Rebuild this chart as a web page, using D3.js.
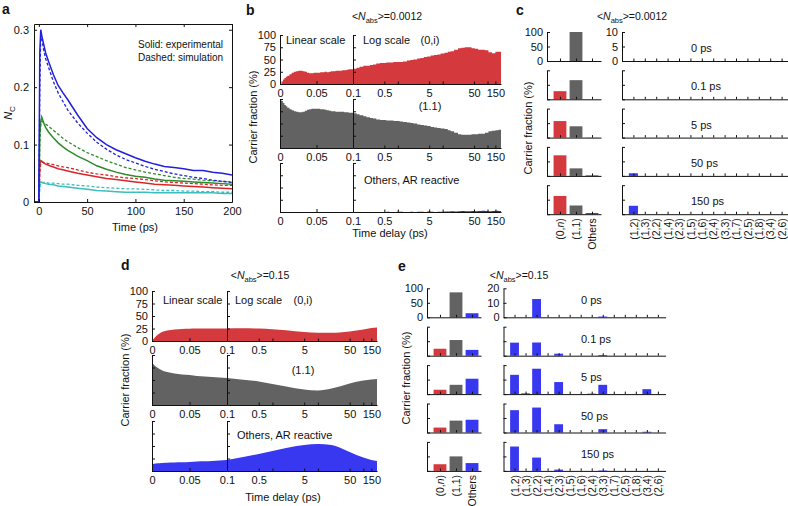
<!DOCTYPE html>
<html>
<head>
<meta charset="utf-8">
<script src="https://cdn.jsdelivr.net/npm/d3@7"></script>
<style>
body { margin: 0; background: #fff; }
svg text { font-family: "Liberation Sans", Arial, Helvetica, sans-serif; fill: #111; }
.tick text { font-size: 11px; }
.tick line, .domain { stroke: #111; }
</style>
</head>
<body>
<div id="chart"></div>
<script>
// ---- panel a : N_C vs time ----
const aTime = [-5,0,1,2,3,5,7,10,15,20,25,30,40,50,60,70,80,90,100,110,120,130,140,150,160,170,180,190,200];
const aBlueExp  = [0,0,0.26,0.30,0.29,0.275,0.26,0.245,0.222,0.203,0.19,0.178,0.152,0.128,0.112,0.1,0.091,0.084,0.077,0.071,0.066,0.062,0.06,0.058,0.055,0.055,0.052,0.05,0.047];
const aBlueSim  = [0,0,0.2,0.295,0.285,0.265,0.25,0.235,0.21,0.19,0.175,0.16,0.138,0.12,0.104,0.092,0.082,0.074,0.068,0.062,0.057,0.053,0.049,0.046,0.043,0.041,0.038,0.036,0.034];
const aGreenExp = [0,0,0.12,0.14,0.148,0.138,0.13,0.122,0.112,0.103,0.096,0.09,0.08,0.072,0.063,0.057,0.052,0.048,0.045,0.043,0.04,0.038,0.037,0.036,0.035,0.034,0.033,0.032,0.031];
const aGreenSim = [0,0,0.1,0.135,0.14,0.139,0.136,0.132,0.125,0.118,0.111,0.105,0.095,0.086,0.079,0.072,0.066,0.06,0.056,0.052,0.049,0.046,0.043,0.041,0.04,0.038,0.037,0.036,0.035];
const aRedExp   = [0,0,0.065,0.072,0.071,0.068,0.066,0.064,0.061,0.058,0.056,0.054,0.05,0.047,0.044,0.041,0.039,0.037,0.035,0.033,0.031,0.03,0.029,0.028,0.027,0.026,0.025,0.024,0.023];
const aRedSim   = [0,0,0.05,0.068,0.069,0.069,0.068,0.067,0.065,0.063,0.061,0.06,0.056,0.052,0.049,0.047,0.044,0.042,0.041,0.039,0.037,0.035,0.034,0.033,0.032,0.031,0.03,0.029,0.029];
const aCyanExp  = [0,0,0.033,0.035,0.034,0.033,0.032,0.031,0.03,0.028,0.027,0.026,0.024,0.022,0.02,0.019,0.018,0.017,0.017,0.017,0.016,0.016,0.016,0.016,0.016,0.016,0.016,0.015,0.015];
const aCyanSim  = [0,0,0.025,0.033,0.034,0.034,0.034,0.033,0.033,0.032,0.031,0.031,0.029,0.028,0.026,0.025,0.024,0.023,0.023,0.022,0.021,0.02,0.02,0.019,0.019,0.018,0.018,0.017,0.017];

// ---- panel b : <Nabs>=0.0012 carrier fractions (%) ----
const bLinTime = [0,0.002,0.004,0.006,0.008,0.01,0.013,0.016,0.019,0.022,0.025,0.028,0.031,0.034,0.037,0.04,0.043,0.046,0.049,0.052,0.055,0.058,0.061,0.064,0.067,0.07,0.073,0.076,0.079,0.082,0.085,0.088,0.091,0.094,0.097,0.1];
const bRedLin  = [0,5,9,12,15,17,20,23,25,26,27,27,26,25,23,22,22,23,23,23,24,24,25,24,25,26,26,27,27,27,28,28,29,30,30,31];
const bGrayLin = [100,96,92,88,85,82,79,77,75,74,73,73,74,76,78,79,80,80,80,80,79,79,78,77,76,75,75,74,74,74,74,73,73,72,72,71];
const bLogTime = [0.1,0.12,0.14,0.17,0.2,0.24,0.28,0.33,0.4,0.47,0.55,0.65,0.8,0.95,1.1,1.3,1.6,1.9,2.2,2.7,3.2,3.8,4.5,5.4,6.4,7.6,9,11,13,15,18,22,26,31,37,44,52,62,74,88,105,125,150,175,200];
const bRedLog  = [31,33,35,37,37,39,40,42,43,43,44,44,45,45,45,46,48,49,50,52,53,55,56,58,59,60,62,64,66,67,70,73,74,75,75,73,72,70,70,69,65,63,66,66,65];
const bGrayLog = [71,69,67,65,63,61,60,58,57,57,56,56,55,55,54,53,52,51,50,48,47,46,45,43,42,41,40,39,36,34,31,28,27,27,27,28,28,29,29,31,34,35,36,37,37];
const bBlueLog = [0,0,0,0,0,0,0,0,0,0,0.5,0,0,0.5,0.5,0,0,0.5,0,0.5,0.5,0,1,0.5,0,0.5,0.5,1,1,1.5,1,1.5,2,1.5,1.5,2,1.5,2,2.5,2,1.5,2,2.5,2,2];

// ---- panel d : <Nabs>=0.15 carrier fractions (%) ----
const dLinTime = [0,0.005,0.01,0.015,0.02,0.03,0.04,0.05,0.06,0.07,0.08,0.09,0.1];
const dRedLin  = [0,9,15,19,21,23,24,24.5,25,25,25,25,25];
const dGrayLin = [85,77,72,68,66,63,61,60,58,57,56,55,54];
const dBlueLin = [14,15,15.5,16,16.5,17,17.5,18,19,19.5,20,21,22];
const dLogTime = [0.1,0.2,0.5,1,2,5,10,20,30,50,100,150,200];
const dRedLog  = [25,25.5,25,23.5,21.5,18,16.5,16.5,17,19,23,26,27];
const dGrayLog = [54,51,47,42,37,31,29,33,37,43,49,51,52];
const dBlueLog = [22,27,34,40,46,52,54,52,47,38,27,22,20];

// ---- panels c, e : bar snapshots ----
const delays = ["0 ps", "0.1 ps", "5 ps", "50 ps", "150 ps"];
const mainCats = ["(0,n)", "(1,1)", "Others"];
const otherCats = ["(1,2)","(1,3)","(2,2)","(1,4)","(2,3)","(1,5)","(1,6)","(2,4)","(3,3)","(1,7)","(2,5)","(1,8)","(3,4)","(2,6)"];
const cRed    = [0, 28, 57, 71, 63];
const cGray   = [100, 66, 39, 26, 30];
const cOthers = [0, 0, 0.5, 2, 4];
const cDetail = [
  [0,0,0,0,0,0,0,0,0,0,0,0,0,0],
  [0,0,0,0,0,0,0,0,0,0,0,0,0,0],
  [0,0,0,0,0,0,0,0,0,0,0,0,0,0],
  [0.9,0,0,0,0,0,0,0,0,0,0,0,0,0],
  [2.9,0,0,0,0,0,0,0,0,0,0,0,0,0]
];
const eRed    = [0, 24, 15, 17, 23];
const eGray   = [86, 54, 32, 41, 50];
const eOthers = [14, 20, 53, 44, 27];
const eDetail = [
  [0,0,12.6,0,0,0,0,0,0.5,0,0,0,0,0],
  [9,0,9.1,0,1.4,0,0,0,0.5,0,0,0,0,0],
  [13.3,0.5,17.5,0,8.3,0,0,0.3,6.4,0,0,0,3.4,0],
  [15.4,0,17.2,0,5.7,0,0,0,2.3,0,0,0,0.5,0],
  [16.8,0,9.2,0,0.9,0,0,0,0.3,0,0,0,0,0]
];

const RED = "#d4393d", GRAY = "#626262", BLUE = "#3838f0";

const svg = d3.select("#chart").append("svg")
  .attr("width", 788).attr("height", 506)
  .style("background", "#fff");

function label(x, y, s, size, anchor, weight) {
  return svg.append("text").attr("x", x).attr("y", y)
    .attr("font-size", size || 11)
    .attr("text-anchor", anchor || "start")
    .attr("font-weight", weight || "normal")
    .text(s);
}
function vlabel(x, y, s, size) {
  return svg.append("text")
    .attr("transform", `translate(${x},${y}) rotate(-90)`)
    .attr("text-anchor", "middle").attr("font-size", size || 11)
    .text(s);
}
function nabsTitle(x, y, val) {
  const t = svg.append("text").attr("x", x).attr("y", y)
    .attr("text-anchor", "middle").attr("font-size", 10.5);
  t.append("tspan").text("<");
  t.append("tspan").attr("font-style", "italic").text("N");
  t.append("tspan").attr("font-size", 7.5).attr("dy", 2.5).text("abs");
  t.append("tspan").attr("dy", -2.5).text(">=" + val);
}

// ================= panel a =================
(function () {
  const x = d3.scaleLinear().domain([-5, 200]).range([34, 232]);
  const y = d3.scaleLinear().domain([0, 0.31]).range([202, 24]);
  const g = svg.append("g");

  const series = [
    [aCyanExp, aCyanSim, "#3ebdbd"],
    [aRedExp, aRedSim, "#d6282b"],
    [aGreenExp, aGreenSim, "#2d8a2d"],
    [aBlueExp, aBlueSim, "#2020dc"]
  ];
  const line = d3.line().x(d => x(d[0])).y(d => y(d[1]));
  series.forEach(s => {
    g.append("path").datum(d3.zip(aTime, s[1])).attr("d", line)
      .attr("fill", "none").attr("stroke", s[2]).attr("stroke-width", 1.3)
      .attr("stroke-dasharray", "3,2");
    g.append("path").datum(d3.zip(aTime, s[0])).attr("d", line)
      .attr("fill", "none").attr("stroke", s[2]).attr("stroke-width", 1.5);
  });

  g.append("g").attr("transform", "translate(0,202)")
    .call(d3.axisBottom(x).tickValues([0, 50, 100, 150, 200]).tickSizeInner(-3).tickSizeOuter(0).tickPadding(5));
  g.append("g").attr("transform", "translate(0,24)")
    .call(d3.axisTop(x).tickValues([0, 50, 100, 150, 200]).tickSizeInner(-3).tickSizeOuter(0).tickFormat(""));
  g.append("g").attr("transform", "translate(34,0)")
    .call(d3.axisLeft(y).tickValues([0, 0.1, 0.2, 0.3]).tickSizeInner(-3).tickSizeOuter(0).tickPadding(5).tickFormat(d3.format("~g")));
  g.append("g").attr("transform", "translate(232,0)")
    .call(d3.axisRight(y).tickValues([0, 0.1, 0.2, 0.3]).tickSizeInner(-3).tickSizeOuter(0).tickFormat(""));

  label(138, 48, "Solid: experimental", 10);
  label(138, 61, "Dashed: simulation", 10);
  label(135, 231, "Time (ps)", 11, "middle");
  const yl = svg.append("text").attr("transform", "translate(12,113) rotate(-90)")
    .attr("text-anchor", "middle").attr("font-size", 11);
  yl.append("tspan").attr("font-style", "italic").text("N");
  yl.append("tspan").attr("font-size", 8).attr("dy", 3).text("C");
  label(2, 14, "a", 14, "start", "bold");
})();

// ============ split linear/log panels (b, d) ============
function splitRow(x0, xs, x1, bottom, h, color, linT, linV, logT, logV, showY, curve) {
  const xl = d3.scaleLinear().domain([0, 0.1]).range([x0, xs]);
  const xg = d3.scaleLog().domain([0.1, 200]).range([xs, x1]);
  const y = d3.scaleLinear().domain([0, 100]).range([bottom, bottom - h]);
  const g = svg.append("g");
  const area = sx => d3.area().x(d => sx(d[0])).y0(y(0)).y1(d => y(d[1])).curve(curve);
  if (linT) g.append("path").datum(d3.zip(linT, linV)).attr("d", area(xl)).attr("fill", color);
  g.append("path").datum(d3.zip(logT, logV)).attr("d", area(xg)).attr("fill", color);

  g.append("g").attr("transform", `translate(0,${bottom})`)
    .call(d3.axisBottom(xl).tickValues([0, 0.05, 0.1]).tickSizeInner(-3).tickSizeOuter(0).tickPadding(5).tickFormat(d3.format("~g")));
  g.append("g").attr("transform", `translate(0,${bottom})`)
    .call(d3.axisBottom(xg).tickValues([0.5, 1, 5, 10, 50, 100, 150]).tickSizeInner(-2.5).tickSizeOuter(0).tickPadding(5)
      .tickFormat(d => [0.5, 5, 50, 150].includes(d) ? d3.format("~g")(d) : ""));

  g.append("g").attr("transform", `translate(${x0},0)`)
    .call(d3.axisLeft(y).tickValues([0, 25, 50, 75, 100]).tickSizeInner(-3).tickSizeOuter(0).tickPadding(4)
      .tickFormat(showY ? d3.format("d") : ""));
  g.append("g").attr("transform", `translate(${xs},0)`)
    .call(d3.axisLeft(y).tickValues([25, 50, 75, 100]).tickSizeInner(-3).tickSizeOuter(0).tickFormat(""));
}

// panel b
(function () {
  const x0 = 280, xs = 353, x1 = 501, h = 49;
  const step = d3.curveStepAfter;
  splitRow(x0, xs, x1, 84, h, RED, bLinTime, bRedLin, bLogTime, bRedLog, true, step);
  splitRow(x0, xs, x1, 148, h, GRAY, bLinTime, bGrayLin, bLogTime, bGrayLog, false, step);
  splitRow(x0, xs, x1, 212, h, "#2a2ad0", null, null, bLogTime, bBlueLog, false, step);
  label(246, 15, "b", 14, "start", "bold");
  nabsTitle(387, 20, "0.0012");
  label(286, 44, "Linear scale");
  label(363, 44, "Log scale");
  label(430, 44, "(0,i)", 11, "middle");
  label(430, 110, "(1.1)", 11, "middle");
  label(364, 184, "Others, AR reactive");
  label(390, 237, "Time delay (ps)", 11, "middle");
  vlabel(257, 117, "Carrier fraction (%)");
})();

// panel d
(function () {
  const x0 = 152, xs = 227, x1 = 377, h = 50;
  const smooth = d3.curveMonotoneX;
  splitRow(x0, xs, x1, 341, h, RED, dLinTime, dRedLin, dLogTime, dRedLog, true, smooth);
  splitRow(x0, xs, x1, 405, h, GRAY, dLinTime, dGrayLin, dLogTime, dGrayLog, false, smooth);
  splitRow(x0, xs, x1, 471, h, BLUE, dLinTime, dBlueLin, dLogTime, dBlueLog, false, smooth);
  label(121, 270, "d", 14, "start", "bold");
  nabsTitle(260, 279, "0.15");
  label(163, 304, "Linear scale");
  label(235, 304, "Log scale");
  label(303, 304, "(0,i)", 11, "middle");
  label(303, 374, "(1.1)", 11, "middle");
  label(237, 439, "Others, AR reactive");
  label(283, 501, "Time delay (ps)", 11, "middle");
  vlabel(129, 380, "Carrier fraction (%)");
})();

// ============ bar panels (c, e) ============
function barRow(xr, dom, ymax, bottom, h, vals, colors, showY, xLabels) {
  const x = d3.scaleLinear().domain(dom).range(xr);
  const y = d3.scaleLinear().domain([0, ymax]).range([bottom, bottom - h]);
  const g = svg.append("g");
  const idx = d3.range(1, vals.length + 1);
  g.selectAll("rect").data(vals).join("rect")
    .attr("x", (d, i) => x(i + 1 - 0.4))
    .attr("width", x(1.4) - x(0.6))
    .attr("y", d => y(d))
    .attr("height", d => y(0) - y(d))
    .attr("fill", (d, i) => colors[i % colors.length]);
  const gx = g.append("g").attr("transform", `translate(0,${bottom})`)
    .call(d3.axisBottom(x).tickValues(idx).tickSizeInner(-2.5).tickSizeOuter(0)
      .tickFormat(xLabels ? (d => xLabels[d - 1]) : ""));
  if (xLabels) {
    gx.selectAll(".tick text")
      .attr("transform", "rotate(-90)").attr("text-anchor", "end")
      .attr("x", -4).attr("y", 0).attr("dy", "0.35em").style("font-size", "10.5px")
      .each(function (d) {
        if (xLabels[d - 1] === "(0,n)") {
          const t = d3.select(this).text("(0,");
          t.append("tspan").style("font-style", "italic").text("n");
          t.append("tspan").text(")");
        }
      });
  }
  g.append("g").attr("transform", `translate(${xr[0]},0)`)
    .call(d3.axisLeft(y).tickValues([0, ymax / 2, ymax]).tickSizeInner(-3).tickSizeOuter(0).tickPadding(4)
      .tickFormat(showY ? d3.format("d") : ""));
}

function barPanel(opt) {
  delays.forEach((dl, i) => {
    const bottom = opt.bottom0 + i * opt.pitch;
    const last = i === delays.length - 1;
    barRow(opt.leftRange, [0.19, 3.56], 100, bottom, 29,
      [opt.red[i], opt.gray[i], opt.others[i]], [RED, GRAY, BLUE], i === 0, last ? mainCats : null);
    barRow(opt.rightRange, [0, 14.7], opt.rmax, bottom, 29,
      opt.detail[i], [BLUE], i === 0, last ? otherCats : null);
    label(opt.delayX, bottom - opt.delayDy, dl, 11);
  });
}

// panel c
barPanel({
  bottom0: 61, pitch: 38.3, leftRange: [547, 601], rightRange: [622, 789.6], rmax: 10,
  red: cRed, gray: cGray, others: cOthers, detail: cDetail, delayX: 691, delayDy: 9
});
label(516, 15, "c", 14, "start", "bold");
nabsTitle(632, 20, "0.0012");
vlabel(532, 128, "Carrier fraction (%)");

// panel e
barPanel({
  bottom0: 317.3, pitch: 38.4, leftRange: [427, 481], rightRange: [503.5, 665.6], rmax: 20,
  red: eRed, gray: eGray, others: eOthers, detail: eDetail, delayX: 581, delayDy: 13
});
label(398, 271, "e", 14, "start", "bold");
nabsTitle(519, 279, "0.15");
vlabel(410, 378, "Carrier fraction (%)");
</script>
</body>
</html>
